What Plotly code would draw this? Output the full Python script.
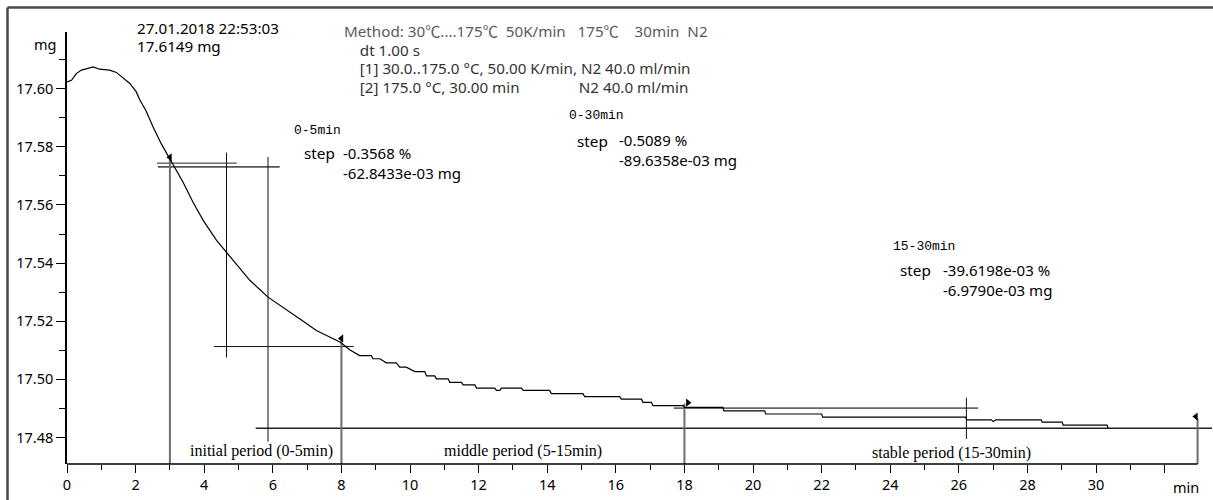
import plotly.graph_objects as go

# ---------------- data ----------------
time_min = [0.00, 0.13, 0.27, 0.42, 0.61, 0.76, 0.95, 1.24, 1.44, 1.65, 1.83, 2.02, 2.12, 2.30,
            2.51, 2.75, 3.01, 3.38, 3.67, 3.97, 4.36, 4.65, 4.94, 5.33, 5.86, 6.30, 6.78, 7.27,
            7.97, 8.24, 8.53, 8.87, 8.92, 9.12, 9.31, 9.60, 9.70, 9.89, 10.14, 10.43, 10.48,
            10.72, 10.77, 11.11, 11.16, 11.50, 11.55, 11.89, 11.94, 12.47, 12.52, 12.62, 12.66,
            13.25, 13.30, 14.07, 14.12, 15.04, 15.09, 16.11, 16.16, 16.75, 16.79, 17.04, 17.08,
            17.96, 18.00, 19.12, 19.15, 20.34, 20.37, 22.00, 22.03, 26.20, 26.23, 26.95, 27.00,
            27.08, 28.40, 28.43, 29.01, 29.04, 30.32, 30.35]
mass_mg = [17.6023, 17.6029, 17.6052, 17.6064, 17.6070, 17.6075, 17.6067, 17.6064, 17.6056,
           17.6037, 17.6018, 17.5989, 17.5962, 17.5925, 17.5868, 17.5810, 17.5754, 17.5679,
           17.5610, 17.5547, 17.5478, 17.5438, 17.5398, 17.5341, 17.5283, 17.5249, 17.5209,
           17.5168, 17.5128, 17.5102, 17.5082, 17.5082, 17.5071, 17.5071, 17.5057, 17.5057,
           17.5042, 17.5042, 17.5027, 17.5027, 17.5012, 17.5012, 17.5002, 17.5002, 17.4990,
           17.4990, 17.4981, 17.4981, 17.4970, 17.4970, 17.4962, 17.4962, 17.4970, 17.4970,
           17.4962, 17.4962, 17.4951, 17.4951, 17.4941, 17.4941, 17.4932, 17.4932, 17.4921,
           17.4921, 17.4910, 17.4910, 17.4904, 17.4904, 17.4892, 17.4892, 17.4881, 17.4881,
           17.4870, 17.4870, 17.4861, 17.4861, 17.4855, 17.4861, 17.4861, 17.4853, 17.4853,
           17.4843, 17.4843, 17.4833]

# step evaluation limits (flag markers and their vertical drop lines)
flag_t = [3.0, 8.0, 18.1, 32.91]
flag_v = [17.5764, 17.5141, 17.4920, 17.4872]
flag_symbol = ["triangle-left", "triangle-left", "triangle-right", "triangle-left"]
limit_t = [3.0, 8.0, 18.0, 32.96]
limit_top = [17.5762, 17.5134, 17.4917, 17.4866]

# construction lines of the step evaluation
hline_v = [17.5744, 17.5731, 17.5113, 17.4901, 17.4832]
hline_t0 = [2.62, 2.65, 4.28, 17.69, 5.50]
hline_t1 = [4.95, 6.20, 8.36, 26.56, 33.40]
vline_t = [4.65, 5.86, 26.22]
vline_v0 = [17.5075, 17.4786, 17.4795]
vline_v1 = [17.5780, 17.5765, 17.4937]

# step results
step_ranges = ["0-5min", "0-30min", "15-30min"]
step_percent = ["-0.3568 %", "-0.5089 %", "-39.6198e-03 %"]
step_mass = ["-62.8433e-03 mg", "-89.6358e-03 mg", "-6.9790e-03 mg"]

x_tick_vals = [0, 2, 4, 6, 8, 10, 12, 14, 16, 18, 20, 22, 24, 26, 28, 30, 32]
x_tick_text = ["0", "2", "4", "6", "8", "10", "12", "14", "16", "18", "20", "22", "24", "26",
               "28", "30", ""]
x_minor_vals = [1, 3, 5, 7, 9, 11, 13, 15, 17, 19, 21, 23, 25, 27, 29, 31]
y_tick_vals = [17.48, 17.50, 17.52, 17.54, 17.56, 17.58, 17.60]
y_tick_text = ["17.48", "17.50", "17.52", "17.54", "17.56", "17.58", "17.60"]
y_minor_vals = [17.49, 17.51, 17.53, 17.55, 17.57, 17.59, 17.61]

X_MAX = 33.38
Y_MIN, Y_MAX = 17.4709, 17.6195
AXIS_END = 32.96

# ---------------- figure ----------------
W, H = 1213, 500
ML, MR, MT, MB = 67, 1, 32, 36
PW, PH = W - ML - MR, H - MT - MB

SANS = "Noto Sans"
MONO = "Liberation Mono"
SERIF = "Liberation Serif"


def px(x):
    return (x - ML) / PW


def py(y):
    return (H - MB - y) / PH


fig = go.Figure()

# construction lines
styles_h = [("#222", 1), ("#555", 1.8), ("#111", 1), ("#666", 1.8), ("#222", 1.3)]
for v, t0, t1, (c, w) in zip(hline_v, hline_t0, hline_t1, styles_h):
    fig.add_trace(go.Scatter(x=[t0, t1], y=[v, v], mode="lines",
                             line=dict(color=c, width=w), hoverinfo="skip", showlegend=False))
for t, v0, v1 in zip(vline_t, vline_v0, vline_v1):
    fig.add_trace(go.Scatter(x=[t, t], y=[v0, v1], mode="lines",
                             line=dict(color="#111", width=1), hoverinfo="skip", showlegend=False))
for t, top in zip(limit_t, limit_top):
    fig.add_trace(go.Scatter(x=[t, t], y=[Y_MIN, top], mode="lines",
                             line=dict(color="#6e6e6e", width=2), hoverinfo="skip", showlegend=False))

# TGA curve
fig.add_trace(go.Scatter(x=time_min, y=mass_mg, mode="lines",
                         line=dict(color="black", width=1.2), showlegend=False))

# flags
fig.add_trace(go.Scatter(x=flag_t, y=flag_v, mode="markers",
                         marker=dict(symbol=flag_symbol, size=7, color="black"),
                         hoverinfo="skip", showlegend=False))

ann = []


def text(x, y, s, size=14.5, family=SANS, color="black", anchor="left"):
    ann.append(dict(x=px(x), y=py(y), xref="paper", yref="paper", text=s, showarrow=False,
                    xanchor=anchor, yanchor="middle", align="left",
                    font=dict(family=family, size=size, color=color)))


NB = "\u00a0"
DEG = "<span style='font-family:Noto Sans CJK SC'>\u2103</span>"


def big(s, fs):
    return "<span style='font-size:%.1fpx'>%s</span>" % (fs, s)


text(45, 44, "mg", anchor="center")
text(135, 37, big("27.01.2018 22:53:03", 15.2) + "<br>" + big("17.6149 mg", 15.2), size=13.9)

method_line = ("Method: 30" + DEG + "....175" + DEG + NB * 2 + "50K/min" + NB * 3 + "175" + DEG
               + NB * 4 + "30min" + NB * 2 + "N2")
method_block = (
    "<span style='color:#5a5a5a;font-size:15.2px'>" + method_line + "</span><br>"
    + big(NB * 4 + "dt 1.00 s", 15.2) + "<br>"
    + big(NB * 4 + "[1] 30.0..175.0 \u00b0C, 50.00 K/min, N2 40.0 ml/min", 15.2) + "<br>"
    + big(NB * 4 + "[2] 175.0 \u00b0C, 30.00 min" + NB * 15 + "N2 40.0 ml/min", 15.2)
)
text(342, 57.8, method_block, size=14.25, color="#333")

# step results (range label, "step", values)
range_xy = [(292, 130.7), (566.7, 116), (890.7, 246)]
step_xy = [(301.5, 152.7), (575, 140.7), (898.3, 270)]
value_xy = [(340.7, 163), (616.7, 150.3), (940.7, 279.5)]
for i in range(3):
    text(*range_xy[i], step_ranges[i], family=MONO, size=13)
    text(*step_xy[i], "step", size=15.3)
    text(*value_xy[i], step_percent[i] + "<br>" + step_mass[i], size=15)

text(261, 451, "initial period (0-5min)", size=16, family=SERIF, anchor="center")
text(523, 451, "middle period (5-15min)", size=16, family=SERIF, anchor="center")
text(951, 453, "stable period (15-30min)", size=16, family=SERIF, anchor="center")
text(1186, 487, "min", anchor="center")

shapes = [
    # x axis line (stops at the end of the measurement)
    dict(type="line", xref="paper", yref="paper", x0=0, x1=AXIS_END / X_MAX, y0=0, y1=0,
         line=dict(color="black", width=1.5)),
    # outer frame (top and left)
    dict(type="line", xref="paper", yref="paper", x0=px(7.5), x1=px(1214), y0=py(7.5), y1=py(7.5),
         line=dict(color="#4a4a4a", width=2.5)),
    dict(type="line", xref="paper", yref="paper", x0=px(7.5), x1=px(7.5), y0=py(7.5), y1=py(501),
         line=dict(color="#4a4a4a", width=2.5)),
]

fig.update_layout(
    width=W, height=H, autosize=False,
    margin=dict(l=ML, r=MR, t=MT, b=MB, pad=0),
    paper_bgcolor="white", plot_bgcolor="white",
    font=dict(family=SANS, size=14.5, color="black"),
    annotations=ann, shapes=shapes,
    xaxis=dict(range=[0, X_MAX], showgrid=False, zeroline=False, showline=False,
               tickmode="array", tickvals=x_tick_vals, ticktext=x_tick_text,
               ticks="outside", ticklen=8, tickwidth=1, tickcolor="black",
               minor=dict(tickmode="array", tickvals=x_minor_vals, ticks="outside",
                          ticklen=5, tickwidth=1, tickcolor="black"),
               tickfont=dict(family=SANS, size=14.5)),
    yaxis=dict(range=[Y_MIN, Y_MAX], showgrid=False, zeroline=False, showline=True,
               linecolor="black", linewidth=1.5,
               tickmode="array", tickvals=y_tick_vals, ticktext=y_tick_text,
               ticks="outside", ticklen=9, tickwidth=1, tickcolor="black",
               minor=dict(tickmode="array", tickvals=y_minor_vals, ticks="outside",
                          ticklen=6, tickwidth=1, tickcolor="black"),
               tickfont=dict(family=SANS, size=14.5)),
)

fig.write_html("out.html")
